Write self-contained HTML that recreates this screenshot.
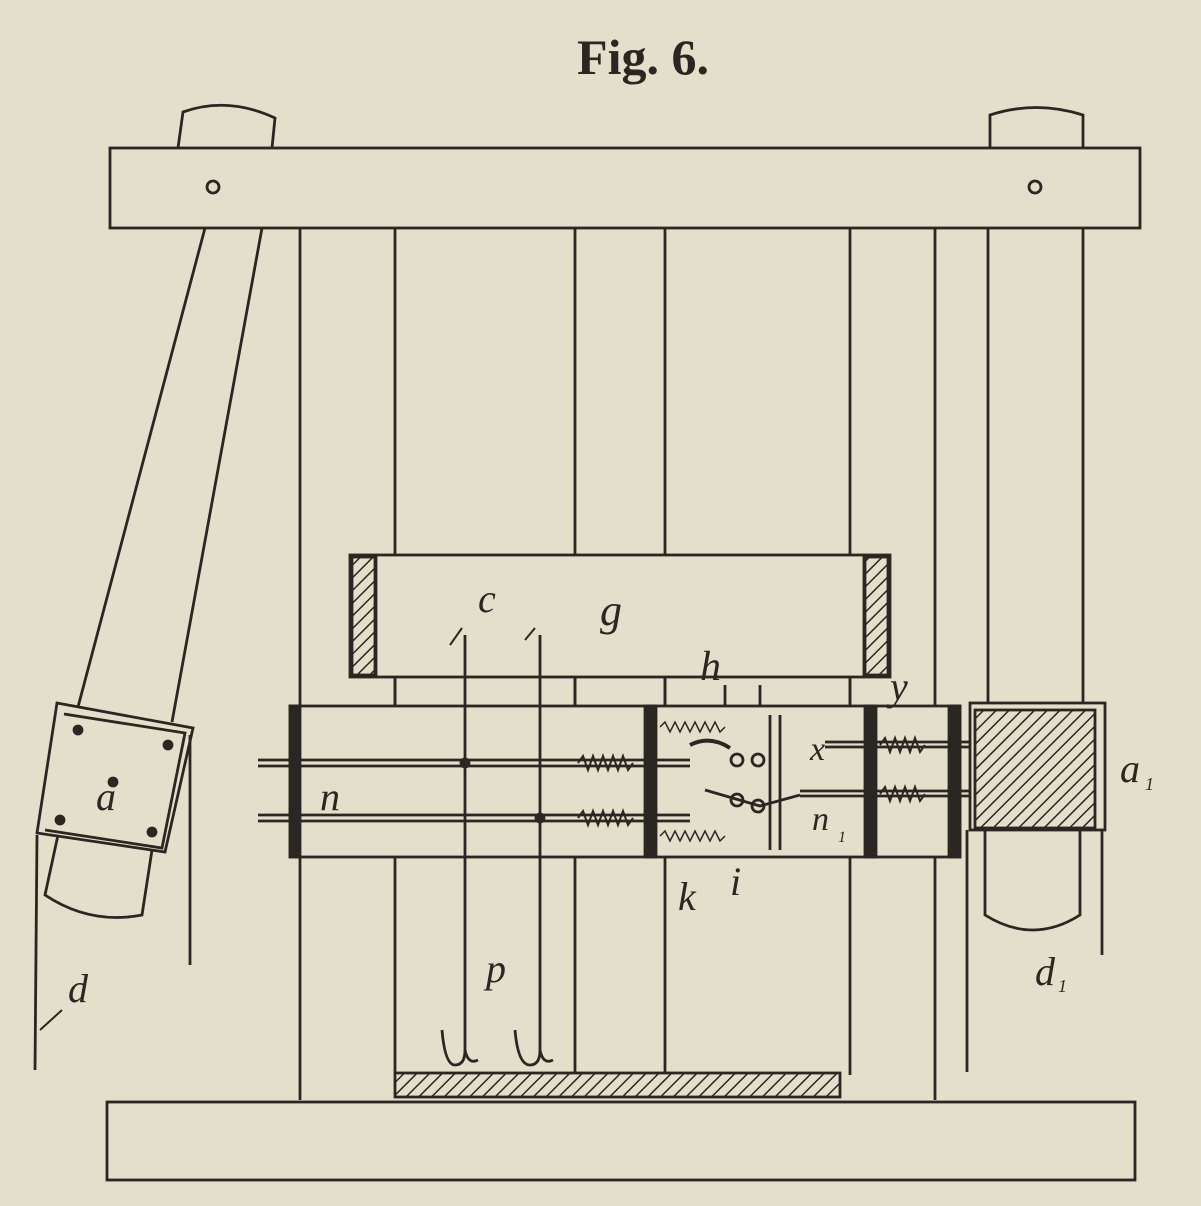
<!DOCTYPE html>
<html><head><meta charset="utf-8"><style>
html,body{margin:0;padding:0;background:#e4dfcb;}
svg{display:block}
text{font-family:"Liberation Serif",serif;fill:#2a2622}
</style></head><body>
<svg width="1201" height="1206" viewBox="0 0 1201 1206" xmlns="http://www.w3.org/2000/svg">
<defs>
<pattern id="h" width="9" height="9" patternUnits="userSpaceOnUse" patternTransform="rotate(45)">
<rect width="9" height="9" fill="#e4dfcb"/><line x1="0" y1="0" x2="0" y2="9" stroke="#2a2622" stroke-width="3"/>
</pattern>
</defs>
<rect width="1201" height="1206" fill="#e4dfcb"/>
<g stroke="#2a2622" stroke-width="2.8" fill="none">
<text x="643" y="74" font-size="50" font-weight="bold" text-anchor="middle" stroke="none">Fig. 6.</text>
<path d="M178 148 L183 112 Q228 96 275 118 L272 148" fill="#e4dfcb"/>
<path d="M990 148 L990 115 Q1036 100 1083 115 L1083 148" fill="#e4dfcb"/>
<line x1="988" y1="228" x2="988" y2="703"/>
<line x1="1083" y1="228" x2="1083" y2="703"/>
<rect x="110" y="148" width="1030" height="80" fill="#e4dfcb"/>
<circle cx="213" cy="187" r="6"/><circle cx="1035" cy="187" r="6"/>
<line x1="205" y1="228" x2="78" y2="707"/>
<line x1="262" y1="228" x2="172" y2="722"/>
<line x1="300" y1="228" x2="300" y2="1100"/>
<line x1="395" y1="228" x2="395" y2="1075"/>
<line x1="575" y1="228" x2="575" y2="1075"/>
<line x1="665" y1="228" x2="665" y2="1075"/>
<line x1="850" y1="228" x2="850" y2="1075"/>
<line x1="935" y1="228" x2="935" y2="1100"/>
<rect x="350" y="555" width="540" height="122" fill="#e4dfcb"/>
<rect x="352" y="557" width="24" height="118" fill="url(#h)"/>
<rect x="864" y="557" width="24" height="118" fill="url(#h)"/>
<line x1="375" y1="557" x2="375" y2="675"/><line x1="865" y1="557" x2="865" y2="675"/>
<line x1="395" y1="677" x2="395" y2="706"/><line x1="575" y1="677" x2="575" y2="706"/>
<line x1="665" y1="677" x2="665" y2="706"/><line x1="850" y1="677" x2="850" y2="706"/>
<text x="600" y="625" font-size="44" font-style="italic" stroke="none">g</text>
<rect x="290" y="706" width="670" height="151" fill="#e4dfcb"/>
<rect x="290" y="706" width="10" height="151" fill="#2a2622"/>
<rect x="645" y="706" width="11" height="151" fill="#2a2622"/>
<rect x="865" y="706" width="11" height="151" fill="#2a2622"/>
<rect x="949" y="706" width="11" height="151" fill="#2a2622"/>
<line x1="770" y1="715" x2="770" y2="850"/><line x1="780" y1="715" x2="780" y2="850"/>
<line x1="725" y1="685" x2="725" y2="706"/><line x1="760" y1="685" x2="760" y2="706"/>
<line x1="258" y1="760" x2="690" y2="760"/><line x1="258" y1="766" x2="690" y2="766"/>
<line x1="258" y1="815" x2="690" y2="815"/><line x1="258" y1="821" x2="690" y2="821"/>
<line x1="825" y1="742" x2="990" y2="742"/><line x1="825" y1="747" x2="990" y2="747"/>
<line x1="800" y1="791" x2="990" y2="791"/><line x1="800" y1="796" x2="990" y2="796"/>
<path d="M578 763 l5 -7 l5 14 l5 -14 l5 14 l5 -14 l5 14 l5 -14 l5 14 l5 -14 l5 14 l5 -7" stroke-width="2"/>
<path d="M578 818 l5 -7 l5 14 l5 -14 l5 14 l5 -14 l5 14 l5 -14 l5 14 l5 -14 l5 14 l5 -7" stroke-width="2"/>
<path d="M880 745 l5 -7 l5 14 l5 -14 l5 14 l5 -14 l5 14 l5 -14 l5 14 l5 -7" stroke-width="2"/>
<path d="M880 794 l5 -7 l5 14 l5 -14 l5 14 l5 -14 l5 14 l5 -14 l5 14 l5 -7" stroke-width="2"/>
<path d="M660 727 l5 -5 l5 10 l5 -10 l5 10 l5 -10 l5 10 l5 -10 l5 10 l5 -10 l5 10 l5 -10 l5 10 l5 -5" stroke-width="1.5"/>
<path d="M660 836 l5 -5 l5 10 l5 -10 l5 10 l5 -10 l5 10 l5 -10 l5 10 l5 -10 l5 10 l5 -10 l5 10 l5 -5" stroke-width="1.5"/>
<circle cx="737" cy="760" r="6"/><circle cx="758" cy="760" r="6"/>
<circle cx="737" cy="800" r="6"/><circle cx="758" cy="806" r="6"/>
<path d="M690 745 Q710 735 730 748" stroke-width="4"/>
<path d="M705 790 L760 806 L800 795"/>
<circle cx="465" cy="763" r="4" fill="#2a2622"/><circle cx="540" cy="818" r="4" fill="#2a2622"/>
<path d="M465 635 L465 1050 Q465 1065 455 1065 Q445 1065 442 1030"/>
<path d="M465 1050 Q468 1065 478 1060"/>
<path d="M540 635 L540 1050 Q540 1065 530 1065 Q518 1065 515 1030"/>
<path d="M540 1050 Q543 1065 553 1060"/>
<path d="M450 645 L462 628" stroke-width="2"/><path d="M525 640 L535 628" stroke-width="2"/>
<rect x="970" y="703" width="135" height="127" fill="#e4dfcb"/>
<rect x="975" y="710" width="120" height="118" fill="url(#h)"/>
<path d="M985 830 L985 915 Q1033 945 1080 915 L1080 830"/>
<line x1="967" y1="830" x2="967" y2="1072"/>
<line x1="1102" y1="830" x2="1102" y2="955"/>
<path d="M57 703 L193 728 L165 852 L37 833 Z" fill="#e4dfcb"/>
<path d="M64 714 L185 733 L162 848 L45 830" />
<circle cx="78" cy="730" r="4" fill="#2a2622"/><circle cx="168" cy="745" r="4" fill="#2a2622"/>
<circle cx="113" cy="782" r="4" fill="#2a2622"/><circle cx="60" cy="820" r="4" fill="#2a2622"/><circle cx="152" cy="832" r="4" fill="#2a2622"/>
<path d="M58 835 L45 895 Q90 925 142 915 L152 850"/>
<line x1="37" y1="835" x2="35" y2="1070"/>
<line x1="190" y1="735" x2="190" y2="965"/>
<rect x="395" y="1073" width="445" height="24" fill="url(#h)"/>
<rect x="107" y="1102" width="1028" height="78" fill="#e4dfcb"/>
<g stroke="none" font-style="italic" font-size="40">
<text x="96" y="810">a</text>
<text x="68" y="1002">d</text>
<line x1="40" y1="1030" x2="62" y2="1010" stroke="#2a2622" stroke-width="2"/>
<text x="478" y="612">c</text>
<text x="700" y="680" font-size="42">h</text>
<text x="890" y="700">y</text>
<text x="810" y="760" font-size="34">x</text>
<text x="1120" y="782">a</text><text x="1145" y="790" font-size="18">1</text>
<text x="320" y="810">n</text>
<text x="812" y="830" font-size="34">n</text><text x="838" y="842" font-size="16">1</text>
<text x="678" y="910">k</text>
<text x="730" y="895">i</text>
<text x="486" y="982">p</text>
<text x="1035" y="985">d</text><text x="1058" y="992" font-size="18">1</text>
</g>
</g>
</svg>
</body></html>
